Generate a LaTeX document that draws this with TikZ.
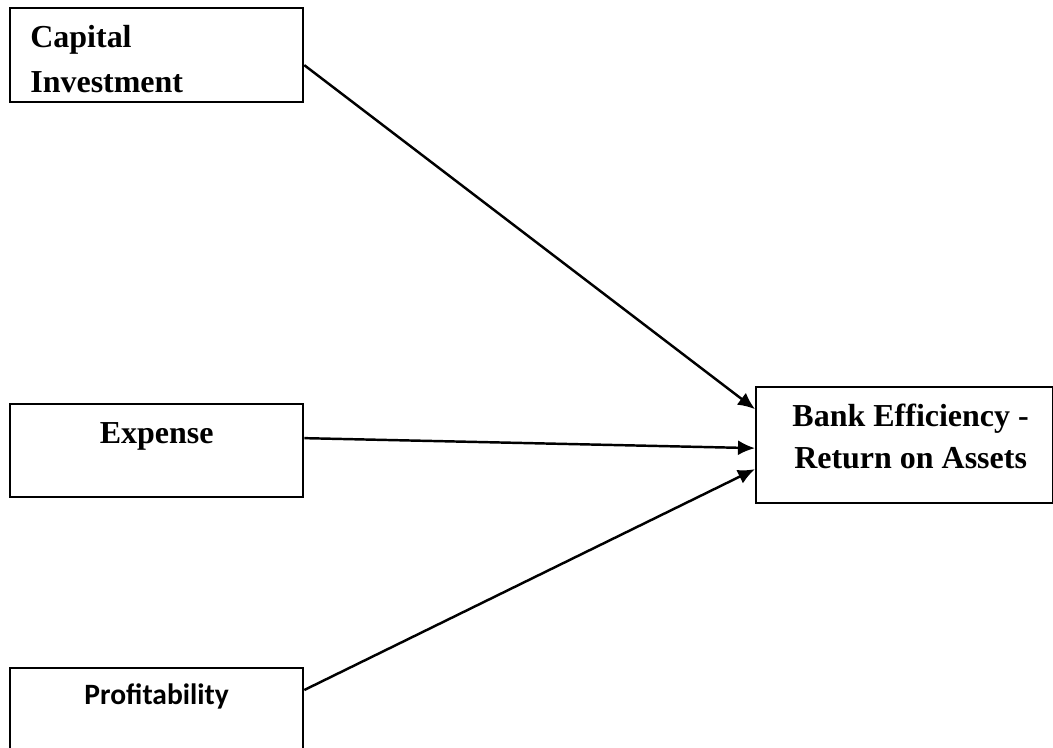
\documentclass[tikz,border=0pt]{standalone}
\usepackage{fontspec}
\setmainfont{Liberation Serif}
\newfontfamily\carlito{Carlito}
\usetikzlibrary{arrows.meta,positioning}
\tikzset{
    boxsty/.style={draw,line width=1.3pt,rectangle,anchor=north west,inner sep=0pt,minimum width=5.86cm},
    txtsty/.style={inner sep=0pt,font=\bfseries\fontsize{18.2}{25.6}\selectfont},
    cbrtxtsty/.style={inner sep=0pt,font=\carlito\bfseries\fontsize{16.8}{19}\selectfont},
    arrsty/.style={->,line width=1.4pt},
}

\begin{document}
\begin{tikzpicture}[>={Latex[length=0.34cm,width=0.3cm]}]
  \clip (0,0) rectangle (21.06,-14.94);

  % boxes
  \node[boxsty,minimum height=1.88cm] (cap) at (0.18,-0.14) {};
  \node[boxsty,minimum height=1.86cm] (exp) at (0.18,-8.06) {};
  \node[boxsty,minimum height=2.00cm] (prof) at (0.18,-13.34) {};
  \node[boxsty,minimum width=5.94cm,minimum height=2.32cm] (bank) at (15.10,-7.72) {};

  % texts
  \node[txtsty,align=left,anchor=north west] (captxt) at ([xshift=0.42cm,yshift=-0.36cm]cap.north west) {Capital\\Investment};
  \node[txtsty,anchor=base] (exptxt) at ([yshift=-0.8cm]exp.north) {Expense};
  \node[cbrtxtsty,anchor=base] (proftxt) at ([yshift=-0.74cm]prof.north) {Profitability};
  \node[txtsty,font=\bfseries\fontsize{18.2}{23.9}\selectfont,align=center,anchor=north] (banktxt) at ([xshift=0.12cm,yshift=-0.36cm]bank.north) {Bank Efficiency -\\Return on Assets};

  % connectors
  \draw[arrsty] ([yshift=-0.2cm]cap.east) -- ([yshift=0.72cm]bank.west);
  \draw[arrsty] ([yshift=0.25cm]exp.east) -- ([yshift=-0.06cm]bank.west);
  \draw[arrsty] ([yshift=-0.46cm]prof.north east) -- ([yshift=-0.48cm]bank.west);
\end{tikzpicture}
\end{document}
